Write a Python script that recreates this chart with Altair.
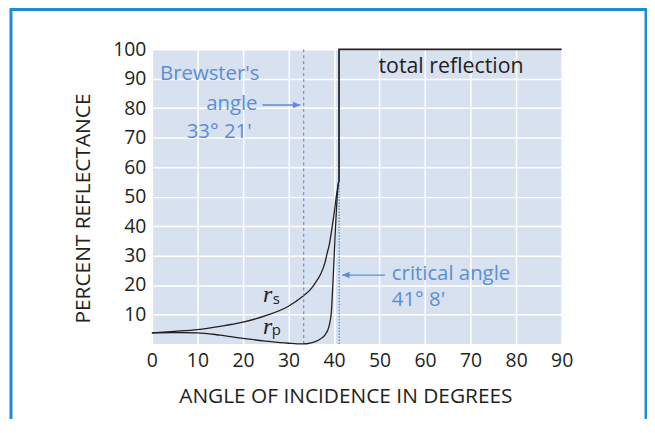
import altair as alt
import pandas as pd

# ---- data ----
x_ticks = [0, 10, 20, 30, 40, 50, 60, 70, 80, 90]
y_ticks = [10, 20, 30, 40, 50, 60, 70, 80, 90, 100]

rs_angle = [0, 5, 10, 15, 20, 25, 30, 33, 35, 36, 37, 38, 38.5, 39, 39.6, 40, 40.5, 41.0]
rs_value = [3.8, 4.3, 4.9, 6.0, 7.4, 9.6, 12.8, 16.0, 18.8, 21.0, 23.5, 27.5, 30.8, 34.0, 39.8, 44.0, 50.0, 55.0]

rp_angle = [0, 5, 10, 15, 20, 25, 30, 33, 35, 36, 37, 38, 38.9, 39.4, 39.8, 40.3, 40.8, 41.0]
rp_value = [3.8, 3.9, 3.8, 3.0, 1.9, 1.0, 0.25, 0.0, 0.4, 0.9, 1.7, 3.0, 6.0, 10.6, 21.8, 38.7, 52.0, 55.0]

total_angle = [41.1, 41.1, 90]
total_value = [55, 100, 100]

brewster_angle = 33.35
critical_angle = 41.13

TEXT = "#231f20"
BLUE = "#5a8fd3"
LINEBLUE = "#4a86d6"
FONT = "Open Sans"
W, H = 413, 297
ANN = 20.5

rs_df = pd.DataFrame({"angle": rs_angle, "value": rs_value})
rp_df = pd.DataFrame({"angle": rp_angle, "value": rp_value})
tot_df = pd.DataFrame({"angle": total_angle, "value": total_value, "o": [0, 1, 2]})

xs = alt.Scale(domain=[0, 90], nice=False, zero=False)
ys = alt.Scale(domain=[0, 100], nice=False)

x_axis = alt.Axis(values=x_ticks, labelPadding=23, labelBaseline="alphabetic", labelFlush=False,
                  title="ANGLE OF INCIDENCE IN DEGREES",
                  titleX=195, titleY=58.5, titleBaseline="alphabetic", titleAlign="center")
y_axis = alt.Axis(values=y_ticks, labelPadding=6, labelFlush=False,
                  title="PERCENT REFLECTANCE", titleAngle=-90,
                  titleX=-63, titleY=160, titleBaseline="alphabetic", titleAlign="center")


def X(field):
    return alt.X(field, scale=xs, axis=x_axis)


def Y(field):
    return alt.Y(field, scale=ys, axis=y_axis)


rs_line = alt.Chart(rs_df).mark_line(color=TEXT, strokeWidth=1.3, interpolate="monotone").encode(
    x=X("angle:Q"), y=Y("value:Q"))
rp_line = alt.Chart(rp_df).mark_line(color=TEXT, strokeWidth=1.3, interpolate="monotone").encode(
    x=X("angle:Q"), y=Y("value:Q"))
tot_line = alt.Chart(tot_df).mark_line(color=TEXT, strokeWidth=1.7).encode(
    x=X("angle:Q"), y=Y("value:Q"), order="o:Q")

vl_df = pd.DataFrame({"angle": [brewster_angle], "lo": [0], "hi": [100]})
vl2_df = pd.DataFrame({"angle": [critical_angle], "lo": [0], "hi": [100]})
brew_rule = alt.Chart(vl_df).mark_rule(color=LINEBLUE, strokeWidth=1, strokeDash=[3, 3]).encode(
    x=X("angle:Q"), y=Y("lo:Q"), y2="hi:Q")
crit_rule = alt.Chart(vl2_df).mark_rule(color=LINEBLUE, strokeWidth=1.2, strokeDash=[1.5, 1.5]).encode(
    x=X("angle:Q"), y=Y("lo:Q"), y2="hi:Q")

arrow_df = pd.DataFrame({"x1": [24.3, 51.2], "x2": [32.6, 41.8], "y": [81.1, 23.4],
                         "dir": ["right", "left"]})
arrow_shafts = alt.Chart(arrow_df).mark_rule(color=BLUE, strokeWidth=1.3).encode(
    x=X("x1:Q"), x2="x2:Q", y=Y("y:Q"))
head_r = alt.Chart(arrow_df[arrow_df.dir == "right"]).mark_point(
    shape="M0,0 L-1,-0.45 L-1,0.45 Z", filled=True, color=BLUE, size=220, opacity=1).encode(
    x=X("x2:Q"), y=Y("y:Q"))
head_l = alt.Chart(arrow_df[arrow_df.dir == "left"]).mark_point(
    shape="M0,0 L1,-0.45 L1,0.45 Z", filled=True, color=BLUE, size=220, opacity=1).encode(
    x=X("x2:Q"), y=Y("y:Q"))

blue_left = pd.DataFrame({"x": [1.8, 52.7, 52.7], "y": [89.6, 21.7, 12.8],
                          "t": ["Brewster's", "critical angle", "41° 8'"]})
blue_right = pd.DataFrame({"x": [23.2, 21.9], "y": [79.3, 70.0], "t": ["angle", "33° 21'"]})
bl_text = alt.Chart(blue_left).mark_text(font=FONT, fontSize=ANN, color=BLUE, align="left",
                                         baseline="alphabetic").encode(
    x=X("x:Q"), y=Y("y:Q"), text="t:N")
br_text = alt.Chart(blue_right).mark_text(font=FONT, fontSize=ANN, color=BLUE, align="right",
                                          baseline="alphabetic").encode(
    x=X("x:Q"), y=Y("y:Q"), text="t:N")

tot_text_df = pd.DataFrame({"x": [65.7], "y": [92.0], "t": ["total reflection"]})
tot_text = alt.Chart(tot_text_df).mark_text(font=FONT, fontSize=21.5, color=TEXT, align="center",
                                            baseline="alphabetic").encode(
    x=X("x:Q"), y=Y("y:Q"), text="t:N")

r_df = pd.DataFrame({"x": [25.4, 25.4], "y": [14.3, 3.3], "t": ["r", "r"]})
sub_df = pd.DataFrame({"x": [27.3, 27.3], "y": [13.4, 2.9], "t": ["s", "p"]})
r_text = alt.Chart(r_df).mark_text(font="Liberation Serif", fontStyle="italic", fontSize=24,
                                   color=TEXT, align="center", baseline="alphabetic").encode(
    x=X("x:Q"), y=Y("y:Q"), text="t:N")
sub_text = alt.Chart(sub_df).mark_text(font=FONT, fontSize=15, color=TEXT, align="center",
                                       baseline="alphabetic").encode(
    x=X("x:Q"), y=Y("y:Q"), text="t:N")

frame = alt.Chart(pd.DataFrame({"k": [0]})).mark_rect(
    fill=None, stroke="#1f8bd6", strokeWidth=3).encode(
    x=alt.value(-142), x2=alt.value(498), y=alt.value(-40), y2=alt.value(420))

chart = alt.layer(
    rs_line, brew_rule, crit_rule, rp_line, tot_line, arrow_shafts, head_r, head_l,
    bl_text, br_text, tot_text, r_text, sub_text, frame
).properties(
    width=W, height=H,
    autosize=alt.AutoSizeParams(type="none"),
    padding={"left": 145, "top": 40, "right": 86, "bottom": 74},
    background="white",
).configure_view(fill="#d8e1f0", strokeWidth=0).configure_axis(
    grid=True, gridColor="white", gridWidth=1.5, domain=False, ticks=False,
    labelFont=FONT, labelFontSize=19.5, labelColor=TEXT,
    titleFont=FONT, titleFontSize=21, titleFontWeight="normal", titleColor=TEXT,
)

chart.save("out.html", embed_options={"renderer": "svg", "actions": False})
